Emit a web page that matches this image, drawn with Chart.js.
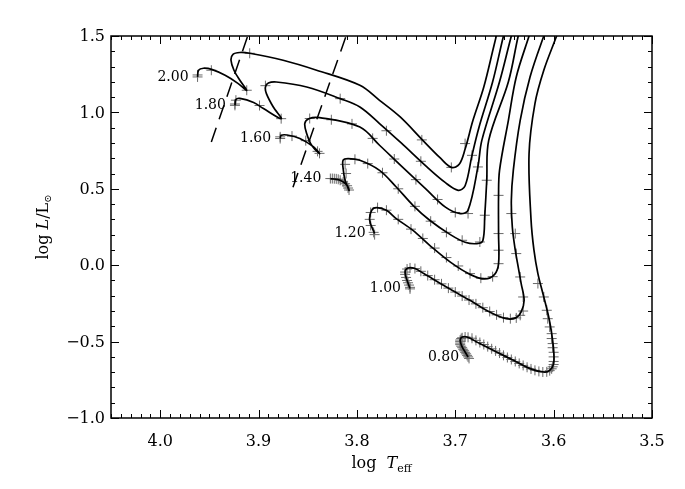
<!DOCTYPE html>
<html>
<head>
<meta charset="utf-8">
<script src="https://cdn.jsdelivr.net/npm/chart.js@4.4.1/dist/chart.umd.min.js"></script>
<style>
  html, body { margin: 0; padding: 0; background: #fff; }
  canvas { display: block; }
</style>
</head>
<body>
<canvas id="hr" width="685" height="489"></canvas>
<script>
// ── axes ──
const xTicks = [4.0, 3.9, 3.8, 3.7, 3.6, 3.5];
const yTicks = [-1.0, -0.5, 0.0, 0.5, 1.0, 1.5];
const massLabels = ["2.00", "1.80", "1.60", "1.40", "1.20", "1.00", "0.80"];

// ── traces evolutives [log Teff, log L] ──
const track200 = [[3.962,1.232],[3.961,1.276],[3.956,1.289],[3.947,1.280],[3.934,1.243],[3.921,1.190],[3.912,1.145],
  [3.919,1.210],[3.925,1.276],[3.928,1.341],[3.926,1.380],[3.919,1.392],[3.909,1.387],[3.875,1.341],[3.841,1.276],
  [3.797,1.177],[3.777,1.079],[3.756,0.970],[3.733,0.817],[3.715,0.700],[3.704,0.640],[3.696,0.660],[3.690,0.760],
  [3.682,0.948],[3.671,1.166],[3.661,1.428],[3.656,1.56]];
const track180 = [[3.924,1.046],[3.923,1.084],[3.919,1.092],[3.905,1.065],[3.895,1.025],[3.877,0.959],[3.885,1.035],
  [3.892,1.123],[3.893,1.166],[3.890,1.192],[3.882,1.199],[3.851,1.166],[3.817,1.090],[3.797,1.035],[3.777,0.927],
  [3.755,0.800],[3.730,0.650],[3.710,0.540],[3.697,0.490],[3.690,0.520],[3.683,0.719],[3.676,0.900],[3.662,1.200],
  [3.651,1.500],[3.648,1.56]];
const track160 = [[3.878,0.829],[3.877,0.850],[3.871,0.852],[3.858,0.829],[3.844,0.774],[3.838,0.730],[3.846,0.785],
  [3.851,0.861],[3.853,0.927],[3.849,0.959],[3.838,0.966],[3.797,0.904],[3.777,0.785],[3.755,0.650],[3.730,0.500],
  [3.710,0.380],[3.695,0.338],[3.687,0.360],[3.677,0.643],[3.673,0.817],[3.655,1.200],[3.643,1.500],[3.640,1.56]];
const track140 = [[3.827,0.567],[3.817,0.556],[3.810,0.523],[3.808,0.490],[3.812,0.556],[3.814,0.632],[3.814,0.687],
  [3.809,0.698],[3.797,0.687],[3.777,0.621],[3.760,0.512],[3.743,0.392],[3.726,0.294],[3.705,0.200],[3.690,0.150],
  [3.678,0.141],[3.672,0.160],[3.670,0.327],[3.668,0.556],[3.666,0.817],[3.646,1.200],[3.636,1.500],[3.633,1.56]];
const track120 = [[3.782,0.207],[3.787,0.294],[3.785,0.359],[3.780,0.377],[3.770,0.359],[3.760,0.305],[3.743,0.228],
  [3.726,0.130],[3.705,0.020],[3.685,-0.060],[3.670,-0.090],[3.660,-0.060],[3.656,0.010],[3.656,0.207],[3.656,0.457],
  [3.655,0.621],[3.646,0.948],[3.638,1.232],[3.625,1.500],[3.622,1.56]];
const track100 = [[3.746,-0.153],[3.749,-0.099],[3.751,-0.044],[3.748,-0.018],[3.741,-0.022],[3.732,-0.055],[3.709,-0.143],
  [3.685,-0.230],[3.665,-0.306],[3.648,-0.350],[3.638,-0.343],[3.633,-0.306],[3.630,-0.230],[3.633,-0.120],[3.636,-0.012],
  [3.639,0.098],[3.642,0.250],[3.643,0.425],[3.641,0.621],[3.634,0.948],[3.624,1.232],[3.610,1.500],[3.606,1.56]];
const track080 = [[3.687,-0.601],[3.690,-0.568],[3.693,-0.535],[3.695,-0.491],[3.693,-0.470],[3.688,-0.470],[3.675,-0.513],
  [3.658,-0.568],[3.641,-0.622],[3.624,-0.677],[3.610,-0.699],[3.604,-0.688],[3.600,-0.644],[3.600,-0.557],[3.602,-0.448],
  [3.605,-0.339],[3.610,-0.208],[3.616,-0.055],[3.620,0.098],[3.623,0.300],[3.625,0.730],[3.619,1.058],[3.610,1.276],
  [3.597,1.500],[3.594,1.56]];

// ── pas de temps (croix) ──
const marks200 = [[3.962,1.232],[3.962,1.245],[3.948,1.276],[3.912,1.145],[3.909,1.387],[3.734,0.820],[3.704,0.640],[3.690,0.796]];
const marks180 = [[3.924,1.046],[3.924,1.055],[3.923,1.080],[3.899,1.045],[3.877,0.959],[3.893,1.175],[3.817,1.090],
  [3.770,0.880],[3.735,0.680],[3.683,0.719]];
const marks160 = [[3.878,0.829],[3.878,0.840],[3.866,0.845],[3.852,0.815],[3.840,0.745],[3.838,0.732],[3.848,0.960],
  [3.826,0.952],[3.805,0.925],[3.784,0.830],[3.762,0.695],[3.740,0.560],[3.718,0.430],[3.700,0.345],[3.687,0.338],[3.677,0.643]];
const marks140 = [[3.827,0.567],[3.825,0.567],[3.823,0.566],[3.821,0.565],[3.819,0.562],[3.817,0.556],[3.814,0.545],
  [3.812,0.533],[3.810,0.520],[3.809,0.505],[3.808,0.492],[3.811,0.600],[3.812,0.660],[3.802,0.693],[3.789,0.665],
  [3.774,0.605],[3.758,0.500],[3.741,0.385],[3.725,0.288],[3.709,0.215],[3.693,0.163],[3.675,0.152],[3.670,0.327],[3.668,0.556]];
const marks120 = [[3.782,0.200],[3.783,0.215],[3.786,0.260],[3.787,0.300],[3.786,0.345],[3.779,0.377],[3.770,0.360],
  [3.758,0.300],[3.745,0.236],[3.733,0.175],[3.721,0.112],[3.709,0.050],[3.697,-0.005],[3.685,-0.055],[3.674,-0.085],
  [3.662,-0.075],[3.656,0.010],[3.656,0.098],[3.656,0.207],[3.656,0.457]];
const marks100 = [[3.746,-0.155],[3.746,-0.145],[3.747,-0.130],[3.748,-0.115],[3.749,-0.100],[3.750,-0.080],[3.751,-0.060],
  [3.751,-0.045],[3.749,-0.025],[3.746,-0.018],[3.741,-0.022],[3.735,-0.040],[3.728,-0.068],[3.721,-0.095],[3.714,-0.122],
  [3.707,-0.150],[3.700,-0.176],[3.693,-0.202],[3.686,-0.228],[3.679,-0.253],[3.672,-0.278],[3.665,-0.303],[3.658,-0.325],
  [3.651,-0.343],[3.644,-0.350],[3.638,-0.345],[3.634,-0.328],[3.631,-0.300],[3.631,-0.208],[3.634,-0.077],[3.638,0.076],
  [3.639,0.207],[3.643,0.338]];
const marks080 = [[3.686,-0.610],[3.687,-0.600],[3.688,-0.590],[3.689,-0.580],[3.690,-0.570],[3.691,-0.560],[3.692,-0.550],
  [3.693,-0.540],[3.694,-0.530],[3.695,-0.520],[3.695,-0.510],[3.695,-0.500],[3.695,-0.490],[3.694,-0.480],[3.693,-0.475],
  [3.690,-0.470],[3.687,-0.472],[3.683,-0.478],[3.679,-0.492],[3.675,-0.506],[3.671,-0.519],[3.667,-0.533],[3.663,-0.547],
  [3.659,-0.561],[3.655,-0.575],[3.651,-0.590],[3.647,-0.604],[3.643,-0.617],[3.639,-0.630],[3.635,-0.643],[3.631,-0.656],
  [3.627,-0.668],[3.623,-0.679],[3.619,-0.688],[3.615,-0.695],[3.611,-0.699],[3.607,-0.698],[3.604,-0.690],[3.602,-0.678],
  [3.601,-0.665],[3.600,-0.650],[3.600,-0.630],[3.600,-0.600],[3.600,-0.570],[3.601,-0.540],[3.601,-0.513],[3.602,-0.480],
  [3.602,-0.448],[3.604,-0.404],[3.606,-0.350],[3.607,-0.295],[3.610,-0.208],[3.616,-0.120]];

// ── bords de la bande d'instabilite (tirets) ──
const blueEdge = [[3.948,0.806],[3.911,1.500]];
const redEdge = [[3.865,0.510],[3.811,1.500]];

const tracks = [track200, track180, track160, track140, track120, track100, track080];
const marks = [marks200, marks180, marks160, marks140, marks120, marks100, marks080];

const SERIF = '"DejaVu Serif", "Liberation Serif", serif';
const toXY = (arr) => arr.map((p) => ({ x: p[0], y: p[1] }));

const datasets = [];
for (const t of tracks) {
  datasets.push({
    data: toXY(t),
    showLine: true,
    borderColor: "#000",
    borderWidth: 1.7,
    pointRadius: 0,
    tension: 0.35,
    clip: 0,
  });
}
for (const e of [blueEdge, redEdge]) {
  datasets.push({
    data: toXY(e),
    showLine: true,
    borderColor: "#000",
    borderWidth: 1.5,
    borderDash: [15, 9],
    pointRadius: 0,
    clip: 0,
  });
}
for (const m of marks) {
  datasets.push({
    data: toXY(m),
    showLine: false,
    pointStyle: "cross",
    pointRadius: 5,
    borderColor: "#6a6a6a",
    borderWidth: 1,
    clip: 0,
  });
}

// cadre, graduations interieures, etiquettes et titres
const frame = {
  id: "frame",
  afterDatasetsDraw(chart) {
    const { ctx, chartArea: a } = chart;
    const sx = chart.scales.x, sy = chart.scales.y;
    const seg = (x1, y1, x2, y2) => { ctx.beginPath(); ctx.moveTo(x1, y1); ctx.lineTo(x2, y2); ctx.stroke(); };
    ctx.save();
    ctx.strokeStyle = "#000";
    ctx.lineWidth = 1;
    for (let k = 350; k <= 405; k++) {
      const px = Math.round(sx.getPixelForValue(k / 100)) + 0.5;
      const len = k % 10 === 0 ? 8 : 4;
      seg(px, a.bottom, px, a.bottom - len);
      seg(px, a.top, px, a.top + len);
    }
    for (let k = -10; k <= 15; k++) {
      const py = Math.round(sy.getPixelForValue(k / 10)) + 0.5;
      const len = k % 5 === 0 ? 8 : 4;
      seg(a.left, py, a.left + len, py);
      seg(a.right, py, a.right - len, py);
    }
    ctx.lineWidth = 1.5;
    ctx.strokeRect(a.left, a.top, a.right - a.left, a.bottom - a.top);

    ctx.fillStyle = "#000";
    ctx.font = "16px " + SERIF;
    ctx.textAlign = "center";
    ctx.textBaseline = "middle";
    for (const v of xTicks) ctx.fillText(v.toFixed(1), sx.getPixelForValue(v), a.bottom + 24);
    ctx.textAlign = "right";
    for (const v of yTicks) {
      const s = (v < 0 ? "\u2212" : "") + Math.abs(v).toFixed(1);
      ctx.fillText(s, a.left - 6, sy.getPixelForValue(v) + 1);
    }

    ctx.font = "14px " + SERIF;
    tracks.forEach((t, i) => {
      ctx.fillText(massLabels[i], sx.getPixelForValue(t[0][0]) - 9, sy.getPixelForValue(t[0][1]));
    });

    // titre x : log T_eff
    const cx = (a.left + a.right) / 2, by = a.bottom + 50;
    const parts = [["log  ", "16px " + SERIF, 0], ["T", "italic 16px " + SERIF, 0], ["eff", "11px " + SERIF, 4]];
    let w = 0;
    for (const p of parts) { ctx.font = p[1]; w += ctx.measureText(p[0]).width; }
    let x = cx - w / 2;
    ctx.textAlign = "left";
    ctx.textBaseline = "alphabetic";
    for (const p of parts) { ctx.font = p[1]; ctx.fillText(p[0], x, by + p[2]); x += ctx.measureText(p[0]).width; }

    // titre y : log L/L_sun
    ctx.translate(48, (a.top + a.bottom) / 2);
    ctx.rotate(-Math.PI / 2);
    const yparts = [["log ", "16px " + SERIF, 0], ["L", "italic 16px " + SERIF, 0], ["/L", "16px " + SERIF, 0], ["\u2299", "10px " + SERIF, 3]];
    w = 0;
    for (const p of yparts) { ctx.font = p[1]; w += ctx.measureText(p[0]).width; }
    x = -w / 2;
    for (const p of yparts) { ctx.font = p[1]; ctx.fillText(p[0], x, p[2]); x += ctx.measureText(p[0]).width; }
    ctx.restore();
  },
};

new Chart(document.getElementById("hr"), {
  type: "scatter",
  data: { datasets },
  options: {
    responsive: false,
    animation: false,
    devicePixelRatio: 1,
    layout: { padding: { left: 0, right: 33, top: 36, bottom: 0 } },
    plugins: { legend: { display: false }, tooltip: { enabled: false } },
    scales: {
      x: {
        type: "linear", min: 3.5, max: 4.05, reverse: true,
        grid: { display: false, drawTicks: false }, border: { display: false },
        ticks: { display: false },
        afterFit: (s) => { s.height = 71; },
      },
      y: {
        type: "linear", min: -1.0, max: 1.5,
        grid: { display: false, drawTicks: false }, border: { display: false },
        ticks: { display: false },
        afterFit: (s) => { s.width = 111; },
      },
    },
  },
  plugins: [frame],
});
</script>
</body>
</html>
